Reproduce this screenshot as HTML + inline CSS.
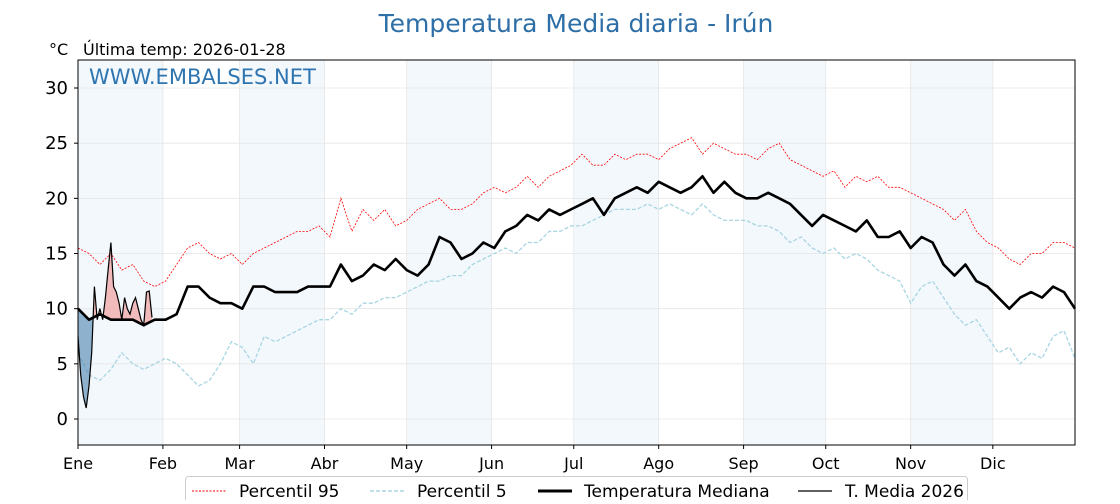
<!DOCTYPE html>
<html><head><meta charset="utf-8"><style>
body{margin:0;background:#fff;width:1120px;height:500px;overflow:hidden;font-family:"DejaVu Sans","Liberation Sans",sans-serif}
svg text{font-family:"DejaVu Sans","Liberation Sans",sans-serif}
</style></head><body>
<svg id="c" width="1120" height="500" xmlns="http://www.w3.org/2000/svg">
<text x="576" y="32" text-anchor="middle" font-size="25" fill="#2d6fa6">Temperatura Media diaria - Irún</text>
<text x="49" y="55" font-size="16" fill="#000">°C</text>
<text x="83" y="55" font-size="16" fill="#000">Última temp: 2026-01-28</text>
<g id="plot"></g>
<text x="89" y="84" font-size="21" fill="#2e75b0">WWW.EMBALSES.NET</text>
<g>
<rect x="185.5" y="476.5" width="782" height="30" rx="3" fill="#fff" stroke="#ccc"/>
<line x1="192" y1="491" x2="226" y2="491" stroke="red" stroke-width="1" stroke-dasharray="2,1.5"/>
<text x="239" y="497" font-size="17">Percentil 95</text>
<line x1="370" y1="491" x2="404" y2="491" stroke="#a8d5e2" stroke-width="1.5" stroke-dasharray="4,2"/>
<text x="417" y="497" font-size="17">Percentil 5</text>
<line x1="538" y1="491" x2="572" y2="491" stroke="#000" stroke-width="3"/>
<text x="584" y="497" font-size="17">Temperatura Mediana</text>
<line x1="798" y1="491" x2="832" y2="491" stroke="#000" stroke-width="1.2"/>
<text x="845" y="497" font-size="17">T. Media 2026</text>
</g>
</svg>
<script>
const months=["Ene","Feb","Mar","Abr","May","Jun","Jul","Ago","Sep","Oct","Nov","Dic"];
const monthStart=[0,31,59,90,120,151,181,212,243,273,304,334];
const yTicks=[0,5,10,15,20,25,30];
const step=4;
const median=[10,9,9.5,9,9,9,8.5,9,9,9.5,12,12,11,10.5,10.5,10,12,12,11.5,11.5,11.5,12,12,12,14,12.5,13,14,13.5,14.5,13.5,13,14,16.5,16,14.5,15,16,15.5,17,17.5,18.5,18,19,18.5,19,19.5,20,18.5,20,20.5,21,20.5,21.5,21,20.5,21,22,20.5,21.5,20.5,20,20,20.5,20,19.5,18.5,17.5,18.5,18,17.5,17,18,16.5,16.5,17,15.5,16.5,16,14,13,14,12.5,12,11,10,11,11.5,11,12,11.5,10];
const p95=[15.5,15,14,15,13.5,14,12.5,12,12.5,14,15.5,16,15,14.5,15,14,15,15.5,16,16.5,17,17,17.5,16.5,20,17,19,18,19,17.5,18,19,19.5,20,19,19,19.5,20.5,21,20.5,21,22,21,22,22.5,23,24,23,23,24,23.5,24,24,23.5,24.5,25,25.5,24,25,24.5,24,24,23.5,24.5,25,23.5,23,22.5,22,22.5,21,22,21.5,22,21,21,20.5,20,19.5,19,18,19,17,16,15.5,14.5,14,15,15,16,16,15.5];
const p5=[6,4,3.5,4.5,6,5,4.5,5,5.5,5,4,3,3.5,5,7,6.5,5,7.5,7,7.5,8,8.5,9,9,10,9.5,10.5,10.5,11,11,11.5,12,12.5,12.5,13,13,14,14.5,15,15.5,15,16,16,17,17,17.5,17.5,18,18.5,19,19,19,19.5,19,19.5,19,18.5,19.5,18.5,18,18,18,17.5,17.5,17,16,16.5,15.5,15,15.5,14.5,15,14.5,13.5,13,12.5,10.5,12,12.5,11,9.5,8.5,9,7.5,6,6.5,5,6,5.5,7.5,8,5.5];
const t2026=[7.5,4,2,1,3,6,12,9,10,9,11,13.5,16,12,11.5,10.5,9,11,10,9.5,10.5,11,10,9,8.5,11.5,11.6,9.2];
const L=78,R=1075,T=60,B=445;
const X=d=>L+d*(R-L)/364;
const Y=v=>419-v*11.033;
const NS="http://www.w3.org/2000/svg";
const g=document.getElementById('plot');
function mk(tag,attrs,parent){const e=document.createElementNS(NS,tag);for(const k in attrs)e.setAttribute(k,attrs[k]);(parent||g).appendChild(e);return e;}
for(let i=0;i<12;i+=2){const x1=X(monthStart[i]),x2=X(i+1<12?monthStart[i+1]:364);
const r=mk('rect',{x:x1,y:T,width:x2-x1,height:B-T,fill:'#f3f8fc'});

}
yTicks.forEach(v=>{const l=mk('line',{x1:L,x2:R,y1:Y(v),y2:Y(v),stroke:'#e6e6e6','stroke-width':0.8});


const t=mk('text',{x:68,y:Y(v)+6,'text-anchor':'end','font-size':18});t.textContent=v;


mk('line',{x1:L-4,x2:L,y1:Y(v),y2:Y(v),stroke:'#000'});});
monthStart.forEach((d,i)=>{const x=X(d);
mk('line',{x1:x,x2:x,y1:T,y2:B,stroke:'#e6e6e6','stroke-width':0.8});
mk('line',{x1:x,x2:x,y1:B,y2:B+4,stroke:'#000'});
const t=mk('text',{x:x,y:469,'text-anchor':'middle','font-size':16});t.textContent=months[i];

});
function pts(arr,st){return arr.map((v,i)=>X(i*st).toFixed(1)+','+Y(v).toFixed(1)).join(' ');}
const lp95=mk('polyline',{points:pts(p95,step),fill:'none',stroke:'red','stroke-width':0.8,'stroke-dasharray':'2,1.5'});


const lp5=mk('polyline',{points:pts(p5,step),fill:'none',stroke:'#a8d5e2','stroke-width':1.3,'stroke-dasharray':'4,2'});


function medAt(d){const i=Math.floor(d/step),f=(d-i*step)/step;return median[i]+(median[Math.min(i+1,median.length-1)]-median[i])*f;}
const n=t2026.length;
let poly=t2026.map((v,d)=>X(d)+','+Y(v));
for(let d=n-1;d>=0;d--)poly.push(X(d)+','+Y(medAt(d)));
let medPath=[];for(let d=0;d<n;d++)medPath.push(X(d)+','+Y(medAt(d)));
const defs=mk('defs',{});
const ca=mk('clipPath',{id:'above'},defs);mk('polygon',{points:X(0)+','+T+' '+medPath.join(' ')+' '+X(n-1)+','+T},ca);
const cb=mk('clipPath',{id:'below'},defs);mk('polygon',{points:X(0)+','+B+' '+medPath.join(' ')+' '+X(n-1)+','+B},cb);
const fa=mk('polygon',{points:poly.join(' '),fill:'#f0a0a0','fill-opacity':0.7,'clip-path':'url(#above)'});


const fb=mk('polygon',{points:poly.join(' '),fill:'#3a78a8','fill-opacity':0.55,'clip-path':'url(#below)'});


const lm=mk('polyline',{points:pts(median,step),fill:'none',stroke:'#000','stroke-width':2.6,'stroke-linejoin':'round'});


const l26=mk('polyline',{points:pts(t2026,1),fill:'none',stroke:'#000','stroke-width':1.2});


mk('rect',{x:L,y:T,width:R-L,height:B-T,fill:'none',stroke:'#000','stroke-width':1});
</script>
</body></html>
